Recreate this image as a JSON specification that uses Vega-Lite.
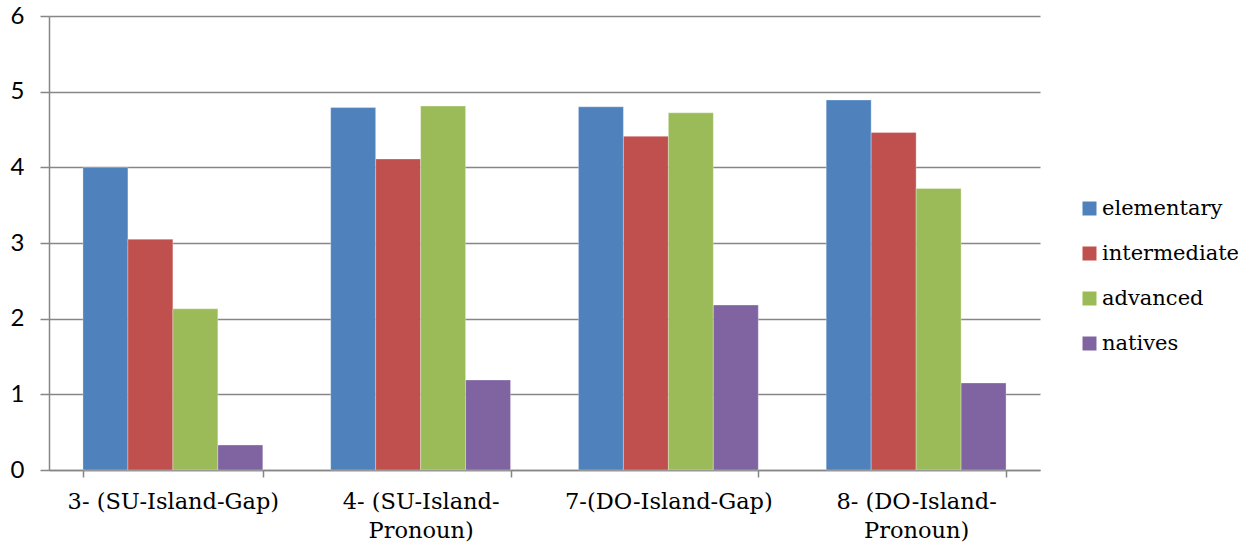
{
  "$schema": "https://vega.github.io/schema/vega-lite/v6.json",
  "width": 991,
  "height": 454,
  "autosize": {"type": "none"},
  "padding": {"left": 49, "top": 16, "right": 204, "bottom": 76},
  "background": "white",
  "config": {
    "view": {"stroke": null},
    "axis": {"domainColor": "#868686", "tickColor": "#868686", "labelColor": "#000000"}
  },
  "data": {
    "values": [
      {"item": "3- (SU-Island-Gap)", "level": "elementary", "score": 4.0},
      {"item": "3- (SU-Island-Gap)", "level": "intermediate", "score": 3.05},
      {"item": "3- (SU-Island-Gap)", "level": "advanced", "score": 2.13},
      {"item": "3- (SU-Island-Gap)", "level": "natives", "score": 0.33},
      {"item": "4- (SU-Island-Pronoun)", "level": "elementary", "score": 4.79},
      {"item": "4- (SU-Island-Pronoun)", "level": "intermediate", "score": 4.11},
      {"item": "4- (SU-Island-Pronoun)", "level": "advanced", "score": 4.81},
      {"item": "4- (SU-Island-Pronoun)", "level": "natives", "score": 1.19},
      {"item": "7-(DO-Island-Gap)", "level": "elementary", "score": 4.8},
      {"item": "7-(DO-Island-Gap)", "level": "intermediate", "score": 4.41},
      {"item": "7-(DO-Island-Gap)", "level": "advanced", "score": 4.72},
      {"item": "7-(DO-Island-Gap)", "level": "natives", "score": 2.18},
      {"item": "8- (DO-Island-Pronoun)", "level": "elementary", "score": 4.89},
      {"item": "8- (DO-Island-Pronoun)", "level": "intermediate", "score": 4.46},
      {"item": "8- (DO-Island-Pronoun)", "level": "advanced", "score": 3.72},
      {"item": "8- (DO-Island-Pronoun)", "level": "natives", "score": 1.15}
    ]
  },
  "mark": {"type": "bar", "stroke": "#ffffff", "strokeWidth": 0.5, "strokeOpacity": 0.6},
  "encoding": {
    "x": {
      "field": "item",
      "type": "nominal",
      "sort": null,
      "title": null,
      "scale": {"paddingInner": 0.274, "paddingOuter": 0.137},
      "axis": {
        "labelAngle": 0,
        "labelFont": "DejaVu Serif",
        "labelFontSize": 22.5,
        "labelLineHeight": 29,
        "labelBaseline": "top",
        "labelPadding": 13,
        "labelLimit": 0,
        "tickBand": "extent",
        "tickSize": 7,
        "tickWidth": 1.5,
        "domainWidth": 1.5,
        "labelExpr": "indexof(datum.label, 'Pronoun') > 0 ? [replace(datum.label, 'Pronoun)', ''), 'Pronoun)'] : datum.label"
      }
    },
    "xOffset": {"field": "level", "type": "nominal", "sort": ["elementary", "intermediate", "advanced", "natives"]},
    "y": {
      "field": "score",
      "type": "quantitative",
      "title": null,
      "scale": {"domain": [0, 6], "nice": false},
      "axis": {
        "values": [0, 1, 2, 3, 4, 5, 6],
        "labelFont": "Lato",
        "labelFontSize": 24,
        "labelPadding": 16,
        "tickSize": 9,
        "tickWidth": 1.5,
        "domainWidth": 1.5,
        "grid": true,
        "gridColor": "#868686",
        "gridWidth": 1.5
      }
    },
    "color": {
      "field": "level",
      "type": "nominal",
      "sort": ["elementary", "intermediate", "advanced", "natives"],
      "scale": {
        "domain": ["elementary", "intermediate", "advanced", "natives"],
        "range": ["#4F81BD", "#C0504D", "#9BBB59", "#8064A2"]
      },
      "legend": {
        "title": null,
        "orient": "none",
        "legendX": 1030,
        "legendY": 182,
        "padding": 0,
        "symbolType": "square",
        "symbolSize": 196,
        "symbolStrokeWidth": 0,
        "labelFont": "DejaVu Serif",
        "labelFontSize": 21,
        "labelLimit": 0,
        "labelColor": "#000000",
        "labelOffset": 2,
        "rowPadding": 23
      }
    }
  }
}
